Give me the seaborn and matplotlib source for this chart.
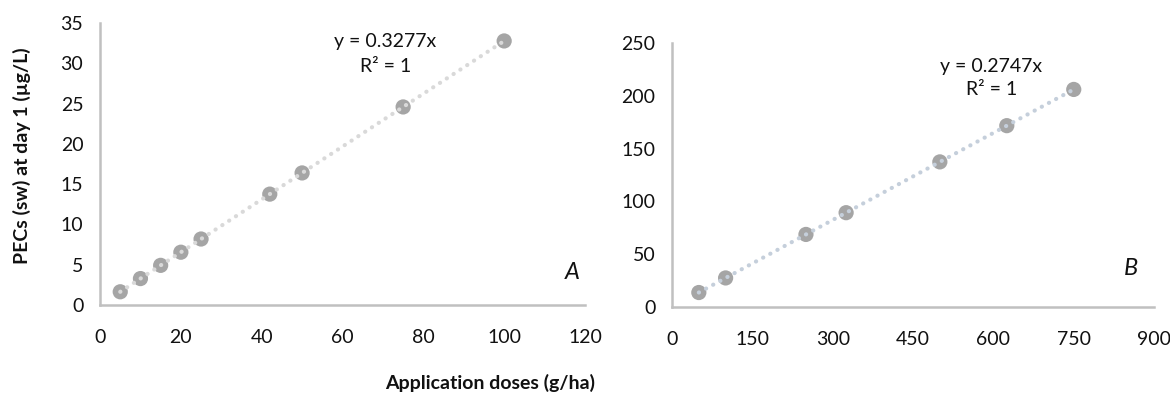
import matplotlib
matplotlib.use("Agg")
import matplotlib.pyplot as plt
import seaborn as sns
import pandas as pd

# Panel A: application doses (g/ha) and PECs in surface water at day 1 (µg/L)
dose_a = [5, 10, 15, 20, 25, 42, 50, 75, 100]
pec_a = [1.64, 3.28, 4.92, 6.55, 8.19, 13.76, 16.39, 24.58, 32.77]
eq_a = "y = 0.3277x"

# Panel B
dose_b = [50, 100, 250, 325, 500, 625, 750]
pec_b = [13.7, 27.5, 68.7, 89.3, 137.4, 171.7, 206.0]
eq_b = "y = 0.2747x"

r2_label = "R² = 1"
xticks_a = [0, 20, 40, 60, 80, 100, 120]
yticks_a = [0, 5, 10, 15, 20, 25, 30, 35]
xticks_b = [0, 150, 300, 450, 600, 750, 900]
yticks_b = [0, 50, 100, 150, 200, 250]

sns.set_theme(style="white")
plt.rcParams["font.family"] = ["Lato", "DejaVu Sans"]

fig = plt.figure(figsize=(11.7, 3.99), dpi=100)
ax_a = fig.add_axes([0.0855, 0.2356, 0.4145, 0.7068])
ax_b = fig.add_axes([0.5744, 0.2306, 0.412, 0.6617])

marker_color = "#a5a5a5"
spine_color = "#c0c0c0"
text_color = "#111111"
fs = 14


def draw_panel(ax, x, y, trend_color, xticks, yticks, eq, eq_pos, r2_pos, tag, tag_pos):
    df = pd.DataFrame({"dose": x, "pec": y})
    sns.scatterplot(data=df, x="dose", y="pec", ax=ax, s=120, color=marker_color,
                    edgecolor="none", zorder=2)
    sns.lineplot(data=df, x="dose", y="pec", ax=ax, color=trend_color, linewidth=3,
                 linestyle=(0, (0.05, 1.9)), dash_capstyle="round", zorder=3)
    ax.set_xlim(xticks[0], xticks[-1])
    ax.set_ylim(yticks[0], yticks[-1])
    ax.set_xticks(xticks)
    ax.set_yticks(yticks)
    ax.tick_params(axis="both", length=0, labelsize=fs, labelcolor=text_color)
    ax.tick_params(axis="x", pad=17)
    ax.tick_params(axis="y", pad=12)
    for side in ("top", "right"):
        ax.spines[side].set_visible(False)
    for side in ("left", "bottom"):
        ax.spines[side].set_color(spine_color)
        ax.spines[side].set_linewidth(1.8)
    ax.set_xlabel("")
    ax.set_ylabel("")
    ax.text(*eq_pos, eq, transform=ax.transAxes, ha="center", va="center",
            fontsize=fs, color=text_color)
    ax.text(*r2_pos, r2_label, transform=ax.transAxes, ha="center", va="center",
            fontsize=fs, color=text_color)
    ax.text(*tag_pos, tag, transform=ax.transAxes, ha="center", va="center",
            fontsize=17, style="italic", color=text_color)


draw_panel(ax_a, dose_a, pec_a, "#d9d9d9", xticks_a, yticks_a, eq_a,
           (0.588, 0.933), (0.588, 0.844), "A", (0.973, 0.117))
draw_panel(ax_b, dose_b, pec_b, "#c5cfdb", xticks_b, yticks_b, eq_b,
           (0.662, 0.909), (0.662, 0.822), "B", (0.952, 0.144))

fig.text(0.019, 0.61, "PECs (sw) at day 1 (µg/L)", rotation=90, ha="center",
         va="center", fontsize=fs, fontweight="bold", color=text_color)
fig.text(0.419, 0.04, "Application doses (g/ha)", ha="center", va="center",
         fontsize=fs, fontweight="bold", color=text_color)

fig.savefig("out.png", dpi=100, facecolor="white")
